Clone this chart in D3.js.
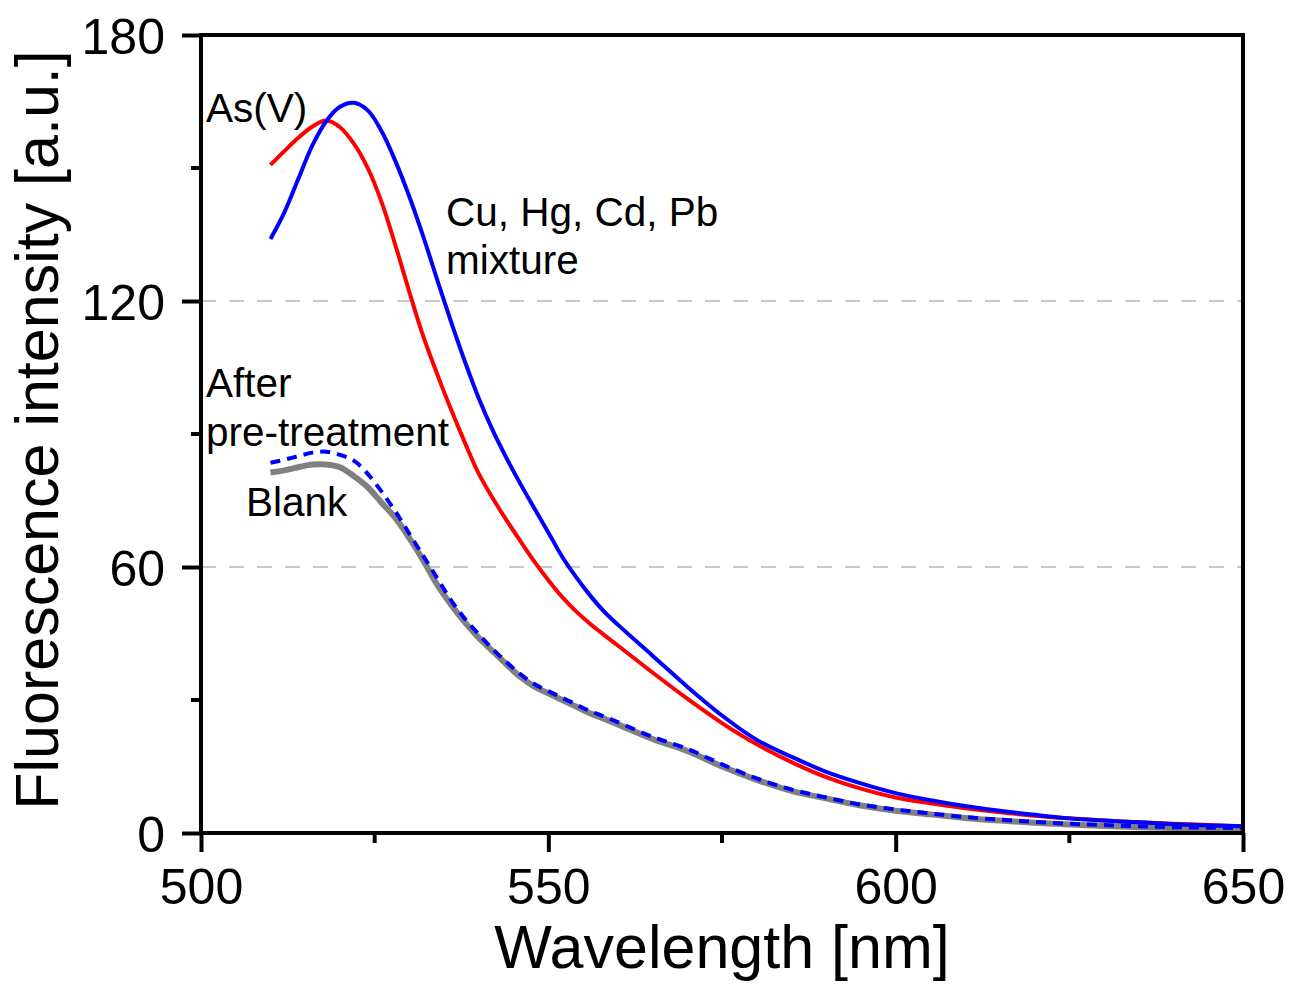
<!DOCTYPE html>
<html lang="en">
<head>
  <meta charset="UTF-8" />
  <title>Fluorescence spectra</title>
  <script src="https://d3js.org/d3.v7.min.js"></script>
  <style>
    body {
      background-color: white;
      margin: 0;
      font-family: "Liberation Sans", Arial, sans-serif;
    }
    svg { display: block; }
    .tick-label { font-size: 50px; fill: #000; }
    .axis-title { font-size: 61px; fill: #000; }
    .note { font-size: 40.5px; fill: #000; }
  </style>
</head>
<body>
  <svg></svg>

  <script>
    // wavelengths [nm]
    const wavelength = [510, 512, 514, 516, 518, 520, 522, 524, 526, 528, 530, 532, 534, 536, 538, 540,
      542, 544, 546, 548, 550, 552, 554, 556, 558, 560, 565, 570, 575, 580, 585, 590, 595, 600,
      605, 610, 615, 620, 625, 630, 635, 640, 645, 650];

    const asV = [150.7, 153.8, 156.8, 159.3, 160.7, 159.2, 155.5, 150, 142.3, 132.5, 122, 112, 103.5, 95.5, 88, 81,
      75.5, 70.5, 65.8, 61.2, 57, 53.2, 50, 47.2, 44.7, 42.3, 36.2, 30.3, 24.8, 20, 16, 12.6, 10, 8,
      6.7, 5.6, 4.7, 3.9, 3.3, 2.8, 2.4, 2.1, 1.8, 1.5];

    const mixture = [134, 140, 147.5, 155, 160.5, 163.8, 164.7, 163, 158.3, 151.5, 143.5, 134.5, 124.8, 115.3, 106.3, 98,
      90.8, 84.5, 78.7, 73.2, 67.8, 62.3, 57.7, 53.6, 50, 47, 40, 33, 26.5, 21, 17.2, 13.8, 11.2, 9,
      7.4, 6.1, 5, 4.1, 3.3, 2.8, 2.4, 2.0, 1.7, 1.5];

    const pretreated = [83.5, 84.2, 85, 85.8, 86, 85.3, 84, 81, 77, 72.5, 67.5, 62.5, 57.5, 52.5, 48.3, 44.8,
      41.5, 38.5, 35.8, 33.6, 32, 30.5, 29, 27.5, 26.3, 25, 21.7, 19, 15.5, 12.3, 9.8, 8, 6.4, 5.3,
      4.4, 3.6, 3, 2.5, 2.1, 1.8, 1.5, 1.3, 1.2, 1.1];

    const blank = [81.3, 81.8, 82.5, 83.1, 83.1, 82.5, 80.5, 78, 74.5, 71, 66.5, 61.5, 56, 51.5, 47.5, 44,
      41, 38, 35.2, 33, 31.5, 30, 28.5, 27, 25.8, 24.5, 21.2, 18.5, 15, 12, 9.5, 7.8, 6.2, 5,
      4.2, 3.4, 2.8, 2.3, 1.9, 1.6, 1.3, 1.1, 1.0, 0.9];

    const xTicks = [500, 550, 600, 650];
    const xMinor = [525, 575, 625];
    const yTicks = [0, 60, 120, 180];
    const yMinor = [30, 90, 150];
    const gridValues = [60, 120];

    const width = 1308, height = 985;
    const margin = { top: 35, right: 65, bottom: 152, left: 201 };

    const svg = d3.select("svg")
      .attr("width", width)
      .attr("height", height);

    const x = d3.scaleLinear().domain([500, 650]).range([margin.left, width - margin.right]);
    const y = d3.scaleLinear().domain([0, 180]).range([height - margin.bottom, margin.top]);

    // dashed grid
    svg.append("g").selectAll("line")
      .data(gridValues)
      .enter().append("line")
      .attr("x1", x(500)).attr("x2", x(650))
      .attr("y1", d => y(d)).attr("y2", d => y(d))
      .attr("stroke", "#c8c8c8")
      .attr("stroke-width", 2)
      .attr("stroke-dasharray", "15,13");

    // curves
    const series = [
      { values: blank, color: "#808080", width: 6, dash: null },
      { values: asV, color: "#ff0000", width: 4, dash: null },
      { values: mixture, color: "#0000ff", width: 4, dash: null },
      { values: pretreated, color: "#0000ff", width: 4, dash: "10,7" }
    ];

    const line = d3.line()
      .x((d, i) => x(wavelength[i]))
      .y(d => y(d))
      .curve(d3.curveCatmullRom.alpha(0.5));

    svg.append("g").selectAll("path")
      .data(series)
      .enter().append("path")
      .attr("d", d => line(d.values))
      .attr("fill", "none")
      .attr("stroke", d => d.color)
      .attr("stroke-width", d => d.width)
      .attr("stroke-dasharray", d => d.dash)
      .attr("stroke-linejoin", "round");

    // frame
    svg.append("rect")
      .attr("x", x(500)).attr("y", y(180))
      .attr("width", x(650) - x(500))
      .attr("height", y(0) - y(180))
      .attr("fill", "none")
      .attr("stroke", "#000")
      .attr("stroke-width", 4);

    // axes
    const xAxis = d3.axisBottom(x).tickValues(xTicks).tickSize(19).tickPadding(16);
    const gx = svg.append("g")
      .attr("transform", `translate(0,${y(0)})`)
      .call(xAxis);
    gx.append("g").selectAll("line")
      .data(xMinor)
      .enter().append("line")
      .attr("x1", d => x(d)).attr("x2", d => x(d))
      .attr("y1", 0).attr("y2", 10);

    const yAxis = d3.axisLeft(y).tickValues(yTicks).tickSize(19).tickPadding(17);
    const gy = svg.append("g")
      .attr("transform", `translate(${x(500)},0)`)
      .call(yAxis);
    gy.append("g").selectAll("line")
      .data(yMinor)
      .enter().append("line")
      .attr("x1", 0).attr("x2", -10)
      .attr("y1", d => y(d)).attr("y2", d => y(d));

    [gx, gy].forEach(g => {
      g.select(".domain").remove();
      g.selectAll("line").attr("stroke", "#000").attr("stroke-width", 4);
      g.selectAll(".tick text")
        .attr("class", "tick-label")
        .attr("font-family", null)
        .attr("font-size", null);
    });
    gy.selectAll(".tick text").attr("dy", "0.36em");

    // axis titles
    svg.append("text")
      .attr("class", "axis-title")
      .attr("x", x(575))
      .attr("y", 968)
      .attr("text-anchor", "middle")
      .text("Wavelength [nm]");

    svg.append("text")
      .attr("class", "axis-title")
      .attr("transform", `translate(58,${(y(0) + y(180)) / 2 - 4}) rotate(-90)`)
      .attr("text-anchor", "middle")
      .text("Fluorescence intensity [a.u.]");

    // annotations
    const notes = [
      { text: "As(V)", x: 206, y: 122 },
      { text: "Cu, Hg, Cd, Pb", x: 446, y: 226 },
      { text: "mixture", x: 446, y: 274 },
      { text: "After", x: 206, y: 397 },
      { text: "pre-treatment", x: 206, y: 446 },
      { text: "Blank", x: 246, y: 516 }
    ];
    svg.append("g").selectAll("text")
      .data(notes)
      .enter().append("text")
      .attr("class", "note")
      .attr("x", d => d.x)
      .attr("y", d => d.y)
      .text(d => d.text);
  </script>
</body>
</html>
